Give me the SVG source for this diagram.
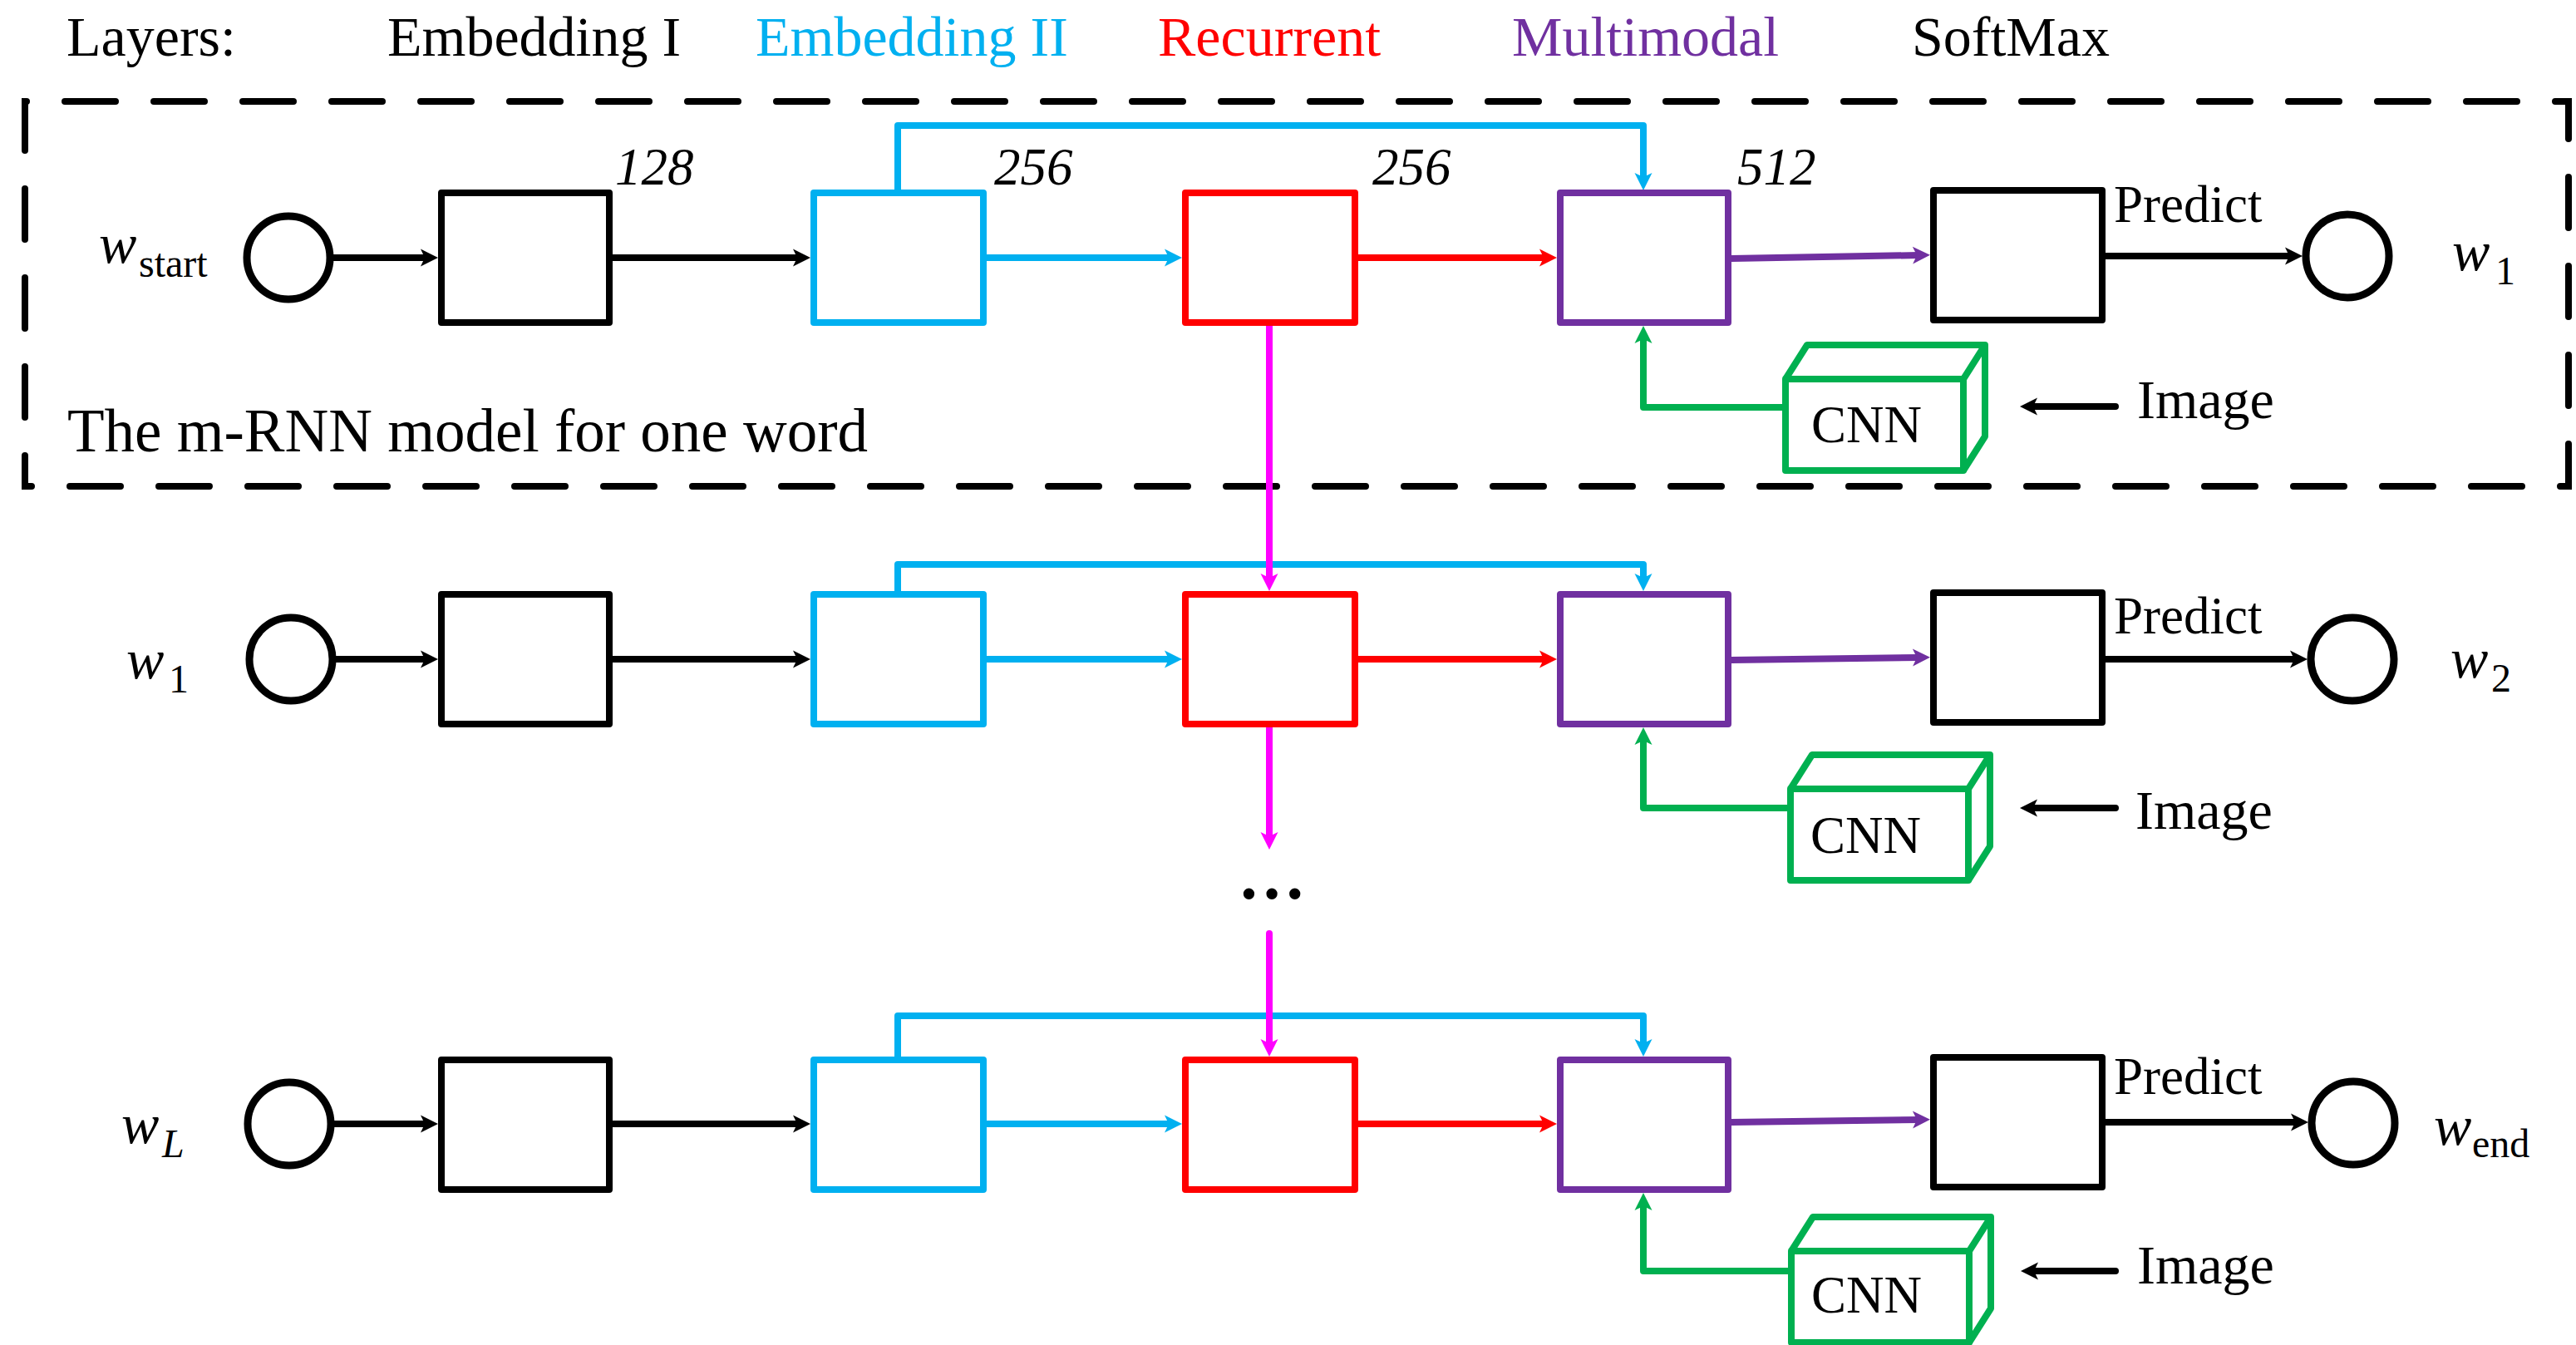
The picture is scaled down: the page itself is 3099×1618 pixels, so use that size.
<svg xmlns="http://www.w3.org/2000/svg" width="3099" height="1618" viewBox="0 0 3099 1618">
<style>
text { font-family: "Liberation Serif", "Times New Roman", serif; fill:#000; }
.t { font-size:68px; }
.num { font-size:63px; font-style:italic; }
.lbl { font-size:63px; }
.img { font-size:66px; }
.cap { font-size:73px; }
.w { font-size:68px; font-style:italic; }
.sub { font-size:48px; }
.subi { font-size:48px; font-style:italic; }
.box { fill:#fff; stroke-width:8; stroke-linejoin:round; }
.cube { fill:none; stroke:#00B050; stroke-width:8; stroke-linejoin:round; }
.k { stroke:#000; } .b { stroke:#00B0F0; } .r { stroke:#FF0000; } .p { stroke:#7030A0; } .m { stroke:#FF00FF; } .g { stroke:#00B050; }
.c { fill:#fff; stroke:#000; stroke-width:9; }
.ln { fill:none; stroke-width:8; stroke-linejoin:round; stroke-linecap:round; }
.dash { fill:none; stroke:#000; stroke-width:8; stroke-linecap:round; stroke-dasharray:61 46; stroke-dashoffset:24; }
</style>
<defs>
<marker id="ak" markerUnits="userSpaceOnUse" markerWidth="24" markerHeight="24" refX="-14" refY="0" orient="auto" overflow="visible"><path d="M0,0 L-21,-10.5 L-16,0 L-21,10.5 Z" fill="#000"/></marker>
<marker id="ab" markerUnits="userSpaceOnUse" markerWidth="24" markerHeight="24" refX="-14" refY="0" orient="auto" overflow="visible"><path d="M0,0 L-21,-10.5 L-16,0 L-21,10.5 Z" fill="#00B0F0"/></marker>
<marker id="ar" markerUnits="userSpaceOnUse" markerWidth="24" markerHeight="24" refX="-14" refY="0" orient="auto" overflow="visible"><path d="M0,0 L-21,-10.5 L-16,0 L-21,10.5 Z" fill="#FF0000"/></marker>
<marker id="ap" markerUnits="userSpaceOnUse" markerWidth="24" markerHeight="24" refX="-14" refY="0" orient="auto" overflow="visible"><path d="M0,0 L-21,-10.5 L-16,0 L-21,10.5 Z" fill="#7030A0"/></marker>
<marker id="am" markerUnits="userSpaceOnUse" markerWidth="24" markerHeight="24" refX="-14" refY="0" orient="auto" overflow="visible"><path d="M0,0 L-21,-10.5 L-16,0 L-21,10.5 Z" fill="#FF00FF"/></marker>
<marker id="ag" markerUnits="userSpaceOnUse" markerWidth="24" markerHeight="24" refX="-14" refY="0" orient="auto" overflow="visible"><path d="M0,0 L-21,-10.5 L-16,0 L-21,10.5 Z" fill="#00B050"/></marker>
</defs>

<g id="legend">
<text class="t" x="80" y="67">Layers:</text>
<text class="t" x="466" y="67">Embedding I</text>
<text class="t" x="909" y="67" style="fill:#00B0F0">Embedding II</text>
<text class="t" x="1393" y="67" style="fill:#FF0000">Recurrent</text>
<text class="t" x="1819" y="67" style="fill:#7030A0">Multimodal</text>
<text class="t" x="2300" y="67">SoftMax</text>
</g>

<g id="frame">
<path class="dash" d="M30,585 V122 H3090 V585 Z"/>
<text class="cap" x="81" y="543">The m-RNN model for one word</text>
</g>

<g id="dims">
<text class="num" x="740" y="222">128</text>
<text class="num" x="1196" y="222">256</text>
<text class="num" x="1651" y="222">256</text>
<text class="num" x="2090" y="222">512</text>
</g>

<g id="connectors">
<!-- row 1 -->
<path class="ln k" d="M401,310 H513" marker-end="url(#ak)"/>
<path class="ln k" d="M737,310 H961" marker-end="url(#ak)"/>
<path class="ln b" d="M1187,310 H1408" marker-end="url(#ab)"/>
<path class="ln r" d="M1634,310 H1859" marker-end="url(#ar)"/>
<path class="ln p" d="M2083,311 L2308,307" marker-end="url(#ap)"/>
<path class="ln k" d="M2533,308 H2756" marker-end="url(#ak)"/>
<path class="ln b" d="M1080,228 V151 H1977 V215" marker-end="url(#ab)"/>
<path class="ln g" d="M2144,490 H1977 V406" marker-end="url(#ag)"/>
<path class="ln k" d="M2545,489 H2444" marker-end="url(#ak)"/>
<!-- row 2 -->
<path class="ln k" d="M404,793 H513" marker-end="url(#ak)"/>
<path class="ln k" d="M737,793 H961" marker-end="url(#ak)"/>
<path class="ln b" d="M1187,793 H1408" marker-end="url(#ab)"/>
<path class="ln r" d="M1634,793 H1859" marker-end="url(#ar)"/>
<path class="ln p" d="M2083,794 L2308,791" marker-end="url(#ap)"/>
<path class="ln k" d="M2533,793 H2762" marker-end="url(#ak)"/>
<path class="ln b" d="M1080,711 V679 H1977 V697" marker-end="url(#ab)"/>
<path class="ln g" d="M2150,972 H1977 V889" marker-end="url(#ag)"/>
<path class="ln k" d="M2545,972 H2444" marker-end="url(#ak)"/>
<!-- row 3 -->
<path class="ln k" d="M402,1352 H513" marker-end="url(#ak)"/>
<path class="ln k" d="M737,1352 H961" marker-end="url(#ak)"/>
<path class="ln b" d="M1187,1352 H1408" marker-end="url(#ab)"/>
<path class="ln r" d="M1634,1352 H1859" marker-end="url(#ar)"/>
<path class="ln p" d="M2083,1350 L2308,1347" marker-end="url(#ap)"/>
<path class="ln k" d="M2533,1350 H2763" marker-end="url(#ak)"/>
<path class="ln b" d="M1080,1271 V1222 H1977 V1257" marker-end="url(#ab)"/>
<path class="ln g" d="M2151,1529 H1977 V1449" marker-end="url(#ag)"/>
<path class="ln k" d="M2545,1529 H2445" marker-end="url(#ak)"/>
<!-- recurrent links -->
<path class="ln m" d="M1527,392 V697" marker-end="url(#am)"/>
<path class="ln m" d="M1527,875 V1008" marker-end="url(#am)"/>
<path class="ln m" d="M1527,1123 V1257" marker-end="url(#am)"/>
</g>

<text id="ellipsis" x="1530" y="1081" text-anchor="middle" style="font-size:82px;font-weight:bold">…</text>

<!-- Row 1 -->
<g id="w_start"><circle class="c" cx="347" cy="310" r="50"/><text class="w" x="119" y="316">w</text><text class="sub" x="167" y="333">start</text></g>
<g id="emb1_1"><rect class="box k" x="531" y="232" width="202" height="156"/></g>
<g id="emb2_1"><rect class="box b" x="979" y="232" width="204" height="156"/></g>
<g id="rec_1"><rect class="box r" x="1426" y="232" width="204" height="156"/></g>
<g id="mm_1"><rect class="box p" x="1877" y="232" width="202" height="156"/></g>
<g id="sm_1"><rect class="box k" x="2326" y="229" width="203" height="156"/><text class="lbl" x="2543" y="267">Predict</text></g>
<g id="w1_out"><circle class="c" cx="2824" cy="308" r="50"/><text class="w" x="2950" y="325">w</text><text class="sub" x="3002" y="342">1</text></g>
<g id="cnn_1"><rect class="cube" x="2148" y="456" width="214" height="110"/><path class="cube" d="M2148,456 L2174,415 H2388 L2362,456 M2388,415 V525 L2362,566"/><text class="lbl" x="2179" y="532">CNN</text></g>
<g id="image_1"><text class="img" x="2571" y="503">Image</text></g>

<!-- Row 2 -->
<g id="w1_in"><circle class="c" cx="350" cy="793" r="50"/><text class="w" x="152" y="816">w</text><text class="sub" x="203" y="833">1</text></g>
<g id="emb1_2"><rect class="box k" x="531" y="715" width="202" height="156"/></g>
<g id="emb2_2"><rect class="box b" x="979" y="715" width="204" height="156"/></g>
<g id="rec_2"><rect class="box r" x="1426" y="715" width="204" height="156"/></g>
<g id="mm_2"><rect class="box p" x="1877" y="715" width="202" height="156"/></g>
<g id="sm_2"><rect class="box k" x="2326" y="713" width="203" height="156"/><text class="lbl" x="2543" y="762">Predict</text></g>
<g id="w2_out"><circle class="c" cx="2830" cy="793" r="50"/><text class="w" x="2948" y="815">w</text><text class="sub" x="2997" y="832">2</text></g>
<g id="cnn_2"><rect class="cube" x="2154" y="949" width="214" height="110"/><path class="cube" d="M2154,949 L2180,908 H2394 L2368,949 M2394,908 V1018 L2368,1059"/><text class="lbl" x="2178" y="1026">CNN</text></g>
<g id="image_2"><text class="img" x="2569" y="997">Image</text></g>

<!-- Row 3 -->
<g id="wL_in"><circle class="c" cx="348" cy="1352" r="50"/><text class="w" x="146" y="1375">w</text><text class="subi" x="195" y="1392">L</text></g>
<g id="emb1_3"><rect class="box k" x="531" y="1275" width="202" height="156"/></g>
<g id="emb2_3"><rect class="box b" x="979" y="1275" width="204" height="156"/></g>
<g id="rec_3"><rect class="box r" x="1426" y="1275" width="204" height="156"/></g>
<g id="mm_3"><rect class="box p" x="1877" y="1275" width="202" height="156"/></g>
<g id="sm_3"><rect class="box k" x="2326" y="1272" width="203" height="156"/><text class="lbl" x="2543" y="1316">Predict</text></g>
<g id="wend_out"><circle class="c" cx="2831" cy="1351" r="50"/><text class="w" x="2928" y="1377">w</text><text class="sub" x="2974" y="1392">end</text></g>
<g id="cnn_3"><rect class="cube" x="2155" y="1505" width="214" height="110"/><path class="cube" d="M2155,1505 L2181,1464 H2395 L2369,1505 M2395,1464 V1574 L2369,1615"/><text class="lbl" x="2179" y="1579">CNN</text></g>
<g id="image_3"><text class="img" x="2571" y="1544">Image</text></g>
</svg>
